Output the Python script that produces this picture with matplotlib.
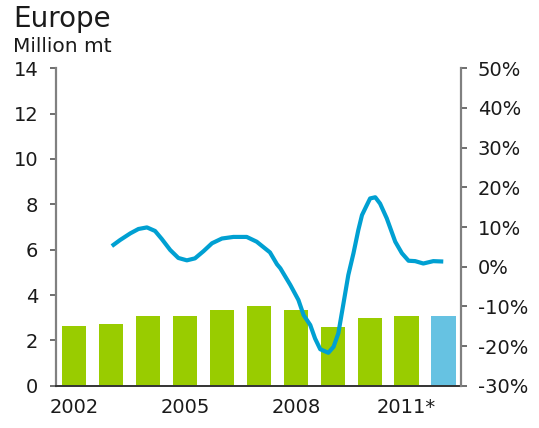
import matplotlib
matplotlib.use("Agg")
import matplotlib.pyplot as plt
import numpy as np

years = [2002, 2003, 2004, 2005, 2006, 2007, 2008, 2009, 2010, 2011, 2012]
volumes = [2.64, 2.73, 3.08, 3.08, 3.35, 3.53, 3.35, 2.60, 3.00, 3.08, 3.08]
bar_colors = ["#99CC00"] * 10 + ["#66C2E2"]

growth_years = [2003.02, 2003.24, 2003.52, 2003.74, 2003.97, 2004.19, 2004.37, 2004.60,
                2004.82, 2005.05, 2005.27, 2005.50, 2005.73, 2006.00, 2006.31, 2006.67,
                2006.94, 2007.22, 2007.30, 2007.49, 2007.58, 2007.85, 2008.07, 2008.21,
                2008.39, 2008.52, 2008.66, 2008.88, 2009.02, 2009.15, 2009.29, 2009.42,
                2009.56, 2009.69, 2009.79, 2009.92, 2010.01, 2010.15, 2010.28, 2010.46,
                2010.69, 2010.87, 2011.05, 2011.23, 2011.45, 2011.72, 2011.99]
growth_pct = [5.2, 6.7, 8.4, 9.5, 9.9, 9.0, 7.0, 4.2,
              2.2, 1.6, 2.1, 3.9, 5.9, 7.1, 7.5, 7.5,
              6.3, 4.2, 3.6, 0.6, -0.4, -4.6, -8.4, -12.2,
              -14.7, -18.1, -20.8, -21.7, -20.2, -16.8, -9.2, -2.1,
              3.4, 9.2, 13.0, 15.5, 17.2, 17.5, 15.9, 12.2,
              6.3, 3.4, 1.5, 1.4, 0.8, 1.4, 1.3]

xtick_years = [2002, 2005, 2008, 2011]
xtick_labels = ["2002", "2005", "2008", "2011*"]
left_ticks = [0, 2, 4, 6, 8, 10, 12, 14]
right_ticks = [-30, -20, -10, 0, 10, 20, 30, 40, 50]
right_labels = [f"{v}%" for v in right_ticks]

plt.rcParams['font.family'] = ['DejaVu Sans']

fig = plt.figure(figsize=(5.39, 4.28), dpi=100)
ax = fig.add_axes([0.1033, 0.0988, 0.7520, 0.7416])

x = np.arange(len(years))
ax.bar(x, volumes, width=0.66, color=bar_colors, zorder=2)
ax.set_xlim(-0.5, 10.47)
ax.set_ylim(0, 14)
ax.set_yticks(left_ticks)
ax.set_xticks([years.index(y) for y in xtick_years])
ax.set_xticklabels(xtick_labels)

for s in ["top", "right"]:
    ax.spines[s].set_visible(False)
ax.spines["left"].set_color("#808080")
ax.spines["left"].set_linewidth(1.6)
ax.spines["bottom"].set_color("#333333")
ax.spines["bottom"].set_linewidth(1.4)
ax.spines["bottom"].set_zorder(5)
ax.tick_params(axis="y", direction="out", length=4, width=1.2, color="#555555",
               labelsize=14, pad=8.5, labelcolor="#1a1a1a")
ax.tick_params(axis="x", length=0, labelsize=14, pad=9, labelcolor="#1a1a1a")

ax2 = ax.twinx()
gx = [yy - years[0] for yy in growth_years]
ax2.plot(gx, growth_pct, color="#00A0D2", linewidth=3.0, solid_joinstyle="round",
         solid_capstyle="butt", zorder=3)
ax2.set_ylim(-30, 50)
ax2.set_yticks(right_ticks)
ax2.set_yticklabels(right_labels)
for s in ["top", "left", "bottom"]:
    ax2.spines[s].set_visible(False)
ax2.spines["right"].set_color("#808080")
ax2.spines["right"].set_linewidth(1.6)
ax2.tick_params(axis="y", direction="out", length=4, width=1.2, color="#555555",
                labelsize=14, pad=8, labelcolor="#1a1a1a")
ax2.set_xlim(-0.5, 10.47)

fig.text(13 / 539, 1 - 27 / 428, "Europe", fontsize=20, va="baseline", ha="left", color="#1a1a1a")
fig.text(13 / 539, 1 - 51.7 / 428, "Million mt", fontsize=14.5, va="baseline", ha="left", color="#1a1a1a")

fig.savefig("out.png", dpi=100)
